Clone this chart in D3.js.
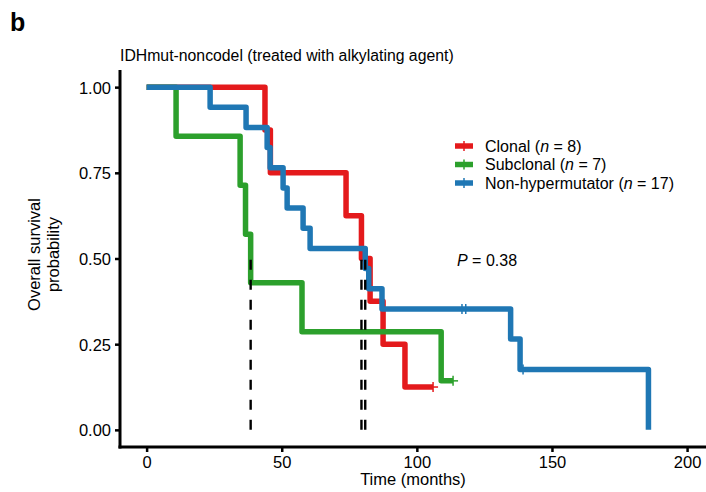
<!DOCTYPE html>
<html>
<head>
<meta charset="utf-8">
<script src="https://cdn.jsdelivr.net/npm/d3@7"></script>
<style>
  html, body { margin: 0; padding: 0; background: #fff; }
  svg text { font-family: "Liberation Sans", Arial, Helvetica, sans-serif; fill: #000; }
</style>
</head>
<body>
<svg id="chart" width="706" height="492"></svg>
<script>
// Kaplan–Meier step curves: event/censor times (months) and survival after each step
const groups = ["Clonal", "Subclonal", "Non-hypermutator"];
const groupN = [8, 7, 17];
const groupColors = ["#e41a1c", "#2ca02c", "#1f77b4"];

const clonalTime = [0, 43.8, 45.8, 73.8, 79.5, 82.7, 87.5, 95.6, 106];
const clonalSurv = [1, 0.875, 0.75, 0.625, 0.5, 0.375, 0.25, 0.125, 0.125];
const clonalCensor = [106];

const subclonalTime = [0, 10.9, 34.6, 36.6, 38.5, 57.5, 109, 113.4];
const subclonalSurv = [1, 0.857, 0.714, 0.571, 0.429, 0.286, 0.143, 0.143];
const subclonalCensor = [113.4];

const nonhyperTime = [0, 23.5, 36.8, 44.6, 45.7, 50.5, 52, 57.9, 60.5, 80.9, 82.2, 87.1, 134.7, 138.2, 185.7];
const nonhyperSurv = [1, 0.941, 0.882, 0.824, 0.765, 0.706, 0.647, 0.588, 0.529, 0.471, 0.412, 0.353, 0.265, 0.176, 0];
const nonhyperCensor = [116.7, 118.1, 139.3];

// median survival times (where each curve first reaches 0.5 or below)
const medianTime = [79.5, 38.5, 80.9];

const xTicks = [0, 50, 100, 150, 200];
const yTicks = [0, 0.25, 0.5, 0.75, 1];
const pValueLabel = "0.38";

const series = [
  { time: clonalTime, surv: clonalSurv, censor: clonalCensor },
  { time: subclonalTime, surv: subclonalSurv, censor: subclonalCensor },
  { time: nonhyperTime, surv: nonhyperSurv, censor: nonhyperCensor }
];

const svg = d3.select("#chart");
const panel = { left: 120, right: 706, top: 70, bottom: 447 };

const x = d3.scaleLinear().domain([-9.85, 207]).range([panel.left, panel.right]);
const y = d3.scaleLinear().domain([-0.05, 1.05]).range([panel.bottom, panel.top]);

// panel letter and title
svg.append("text").attr("x", 10).attr("y", 31)
  .style("font-size", "25px").style("font-weight", "bold").text("b");
svg.append("text").attr("x", 120).attr("y", 61)
  .style("font-size", "15.8px").text("IDHmut-noncodel (treated with alkylating agent)");

// survival curves
const line = d3.line()
  .x(d => x(d[0])).y(d => y(d[1]))
  .curve(d3.curveStepAfter);

const curves = svg.append("g");
series.forEach((s, i) => {
  const pts = s.time.map((t, k) => [t, s.surv[k]]);
  curves.append("path")
    .attr("d", line(pts))
    .attr("fill", "none")
    .attr("stroke", groupColors[i])
    .attr("stroke-width", 5.5)
    .attr("stroke-linejoin", "round")
    .attr("stroke-linecap", "butt");
});

// censoring marks
function survAt(s, t) {
  let v = s.surv[0];
  for (let k = 0; k < s.time.length; k++) if (s.time[k] <= t) v = s.surv[k];
  return v;
}
series.forEach((s, i) => {
  s.censor.forEach(t => {
    const cx = x(t), cy = y(survAt(s, t));
    curves.append("line")
      .attr("x1", cx).attr("x2", cx).attr("y1", cy - 5).attr("y2", cy + 5)
      .attr("stroke", groupColors[i]).attr("stroke-width", 1.5);
    curves.append("line")
      .attr("x1", cx - 5).attr("x2", cx + 5).attr("y1", cy).attr("y2", cy)
      .attr("stroke", groupColors[i]).attr("stroke-width", 1.5);
  });
});

// median lines
medianTime.forEach(t => {
  svg.append("line")
    .attr("x1", x(t)).attr("x2", x(t))
    .attr("y1", y(0)).attr("y2", y(0.5))
    .attr("stroke", "#000").attr("stroke-width", 2.4)
    .attr("stroke-dasharray", "10,10");
});

// axes
const xAxis = svg.append("g").attr("transform", `translate(0,${panel.bottom})`)
  .call(d3.axisBottom(x).tickValues(xTicks).tickSize(5).tickPadding(4).tickFormat(d3.format("d")));
const yAxis = svg.append("g").attr("transform", `translate(${panel.left},0)`)
  .call(d3.axisLeft(y).tickValues(yTicks).tickSize(5).tickPadding(4).tickFormat(d3.format(".2f")));

[xAxis, yAxis].forEach(g => {
  g.select(".domain").remove();
  g.selectAll(".tick line").attr("stroke", "#000").attr("stroke-width", 2.5);
  g.selectAll(".tick text").style("font-size", "16.5px").attr("fill", "#000");
});
xAxis.selectAll(".tick text").attr("dy", "0.72em");
yAxis.selectAll(".tick text").attr("dy", "0.36em");

svg.append("line").attr("x1", panel.left - 1.5).attr("x2", panel.right)
  .attr("y1", panel.bottom).attr("y2", panel.bottom)
  .attr("stroke", "#000").attr("stroke-width", 3);
svg.append("line").attr("x1", panel.left).attr("x2", panel.left)
  .attr("y1", panel.top).attr("y2", panel.bottom + 1.5)
  .attr("stroke", "#000").attr("stroke-width", 3);

// axis titles
svg.append("text").attr("x", (panel.left + panel.right) / 2).attr("y", 485)
  .attr("text-anchor", "middle").style("font-size", "16.5px").text("Time (months)");
const yTitle = svg.append("text")
  .attr("transform", `translate(40,${(panel.top + panel.bottom) / 2 - 4}) rotate(-90)`)
  .attr("text-anchor", "middle").style("font-size", "16.5px");
yTitle.append("tspan").attr("x", 0).attr("y", 0).text("Overall survival");
yTitle.append("tspan").attr("x", 0).attr("y", 19).text("probability");

// legend
const legend = svg.append("g");
const legendRows = [146, 164.5, 183];
groups.forEach((g, i) => {
  const ly = legendRows[i];
  legend.append("line").attr("x1", 455).attr("x2", 473).attr("y1", ly).attr("y2", ly)
    .attr("stroke", groupColors[i]).attr("stroke-width", 5.5);
  legend.append("line").attr("x1", 464).attr("x2", 464).attr("y1", ly - 5).attr("y2", ly + 5)
    .attr("stroke", groupColors[i]).attr("stroke-width", 1.5);
  const t = legend.append("text").attr("x", 485).attr("y", ly + 5.5).style("font-size", "16px");
  t.append("tspan").text(g + " (");
  t.append("tspan").style("font-style", "italic").text("n");
  t.append("tspan").text(" = " + groupN[i] + ")");
});

// log-rank p value
const pText = svg.append("text").attr("x", 457).attr("y", 266).style("font-size", "16px");
pText.append("tspan").style("font-style", "italic").text("P");
pText.append("tspan").text(" = " + pValueLabel);
</script>
</body>
</html>
